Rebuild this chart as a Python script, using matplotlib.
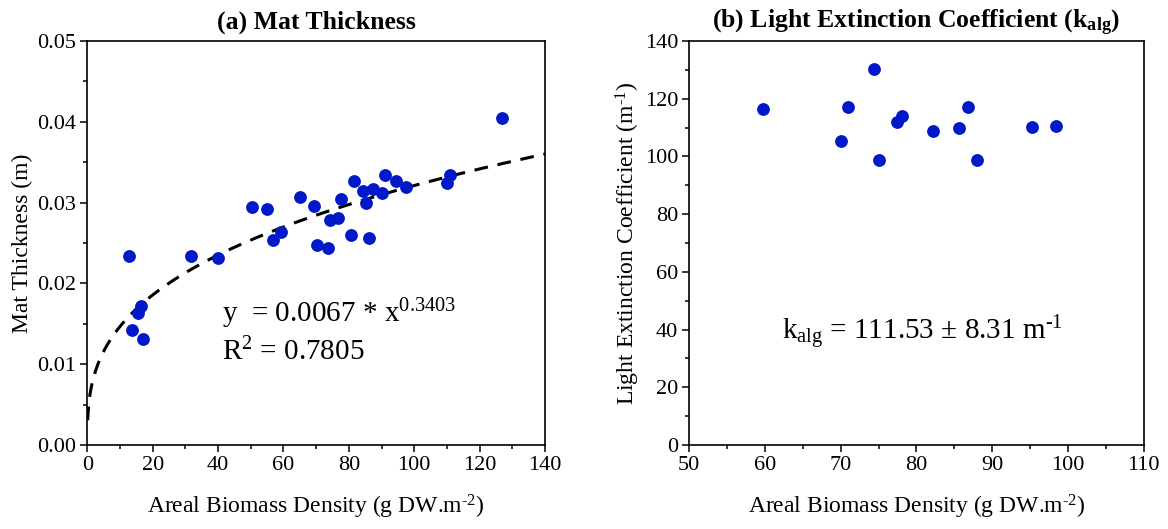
import numpy as np
import matplotlib
matplotlib.use("Agg")
import matplotlib.pyplot as plt
from matplotlib.ticker import MultipleLocator, FormatStrFormatter

# ---- data ----
biomass_a = [12.75, 13.6, 17.1, 15.6, 16.4, 31.7, 40.0, 50.4, 55.0, 56.7, 59.3,
             65.2, 69.4, 70.4, 73.6, 74.2, 76.7, 77.6, 80.7, 81.5, 84.4, 85.1,
             86.1, 87.4, 90.0, 91.0, 94.4, 97.6, 109.9, 110.9, 127.0]
thickness = [0.02342, 0.0142, 0.01317, 0.01638, 0.0172, 0.02342, 0.02312,
             0.02942, 0.02922, 0.0254, 0.02642, 0.03065, 0.02963, 0.02481,
             0.02441, 0.0279, 0.02811, 0.03043, 0.02593, 0.03272, 0.0314,
             0.02991, 0.02564, 0.03169, 0.0312, 0.03346, 0.03272, 0.03198,
             0.03243, 0.03346, 0.04041]
fit_a, fit_b = 0.0067, 0.3403

biomass_b = [59.78, 74.36, 71.0, 70.0, 75.02, 77.4, 78.1, 82.15, 85.67, 86.86,
             87.97, 95.27, 98.48]
kalg = [116.4, 130.4, 117.3, 105.3, 98.85, 112.1, 114.1, 108.9, 109.8, 117.2,
        98.75, 110.3, 110.5]

plt.rcParams['font.family'] = ['Liberation Serif', 'DejaVu Serif']
plt.rcParams['mathtext.fontset'] = 'custom'
plt.rcParams['mathtext.rm'] = 'Liberation Serif'
plt.rcParams['mathtext.it'] = 'Liberation Serif:italic'
plt.rcParams['mathtext.bf'] = 'Liberation Serif:bold'

blue = '#0019C8'
W, H = 1168, 529
fig = plt.figure(figsize=(W / 100, H / 100), dpi=100)

axa = fig.add_axes([87.3 / W, 1 - 445 / H, (545 - 87.3) / W, (445 - 41) / H])
axb = fig.add_axes([689.3 / W, 1 - 445 / H, (1143.5 - 689.3) / W, (445 - 41) / H])

for ax in (axa, axb):
    for sp in ax.spines.values():
        sp.set_linewidth(1.2)
    ax.tick_params(which='both', direction='out', top=False, right=False,
                   labelsize=16, width=1.1, pad=3)
    ax.tick_params(which='major', length=5)
    ax.tick_params(which='minor', length=3)

xlab = 'Areal Biomass Density (g DW.m$^{\\text{-2}}$)'

# panel a
xf = np.linspace(0.1, 140, 400)
axa.plot(xf, fit_a * xf ** fit_b, color='black', lw=2.2, ls=(0, (4.5, 3.2)), zorder=2)
axa.plot(biomass_a, thickness, 'o', color=blue, ms=8.2, mec=blue, zorder=3)
axa.set_xlim(0, 140)
axa.set_ylim(0, 0.05)
axa.xaxis.set_major_locator(MultipleLocator(20))
axa.xaxis.set_minor_locator(MultipleLocator(10))
axa.yaxis.set_major_locator(MultipleLocator(0.01))
axa.yaxis.set_minor_locator(MultipleLocator(0.005))
axa.yaxis.set_major_formatter(FormatStrFormatter('%.2f'))
axa.set_xlabel(xlab, fontsize=17, labelpad=13)
axa.set_ylabel('Mat Thickness (m)', fontsize=17, labelpad=3)
axa.set_title('(a) Mat Thickness', fontsize=18.5, fontweight='bold', pad=9)
axa.text(41.1, 0.01522, 'y  = 0.0067 * x$^{\\mathrm{0.3403}}$', fontsize=21, va='baseline')
axa.text(41.1, 0.01049, 'R$^{\\mathrm{2}}$ = 0.7805', fontsize=21, va='baseline')

# panel b
axb.plot(biomass_b, kalg, 'o', color=blue, ms=8.2, mec=blue, zorder=3)
axb.set_xlim(50, 110)
axb.set_ylim(0, 140)
axb.xaxis.set_major_locator(MultipleLocator(10))
axb.xaxis.set_minor_locator(MultipleLocator(5))
axb.yaxis.set_major_locator(MultipleLocator(20))
axb.yaxis.set_minor_locator(MultipleLocator(10))
axb.set_xlabel(xlab, fontsize=17, labelpad=13)
axb.set_ylabel('Light Extinction Coefficient (m$^{\\text{-1}}$)', fontsize=17, labelpad=2)
axb.set_title('(b) Light Extinction Coefficient (k$_{\\mathbf{alg}}$)', fontsize=18.5,
              fontweight='bold', pad=9)
axb.text(62.2, 36.4, 'k$_{\\mathrm{alg}}$ = 111.53 ± 8.31 m$^{\\text{-1}}$', fontsize=21,
         va='baseline')

fig.savefig('out.png', dpi=100)
